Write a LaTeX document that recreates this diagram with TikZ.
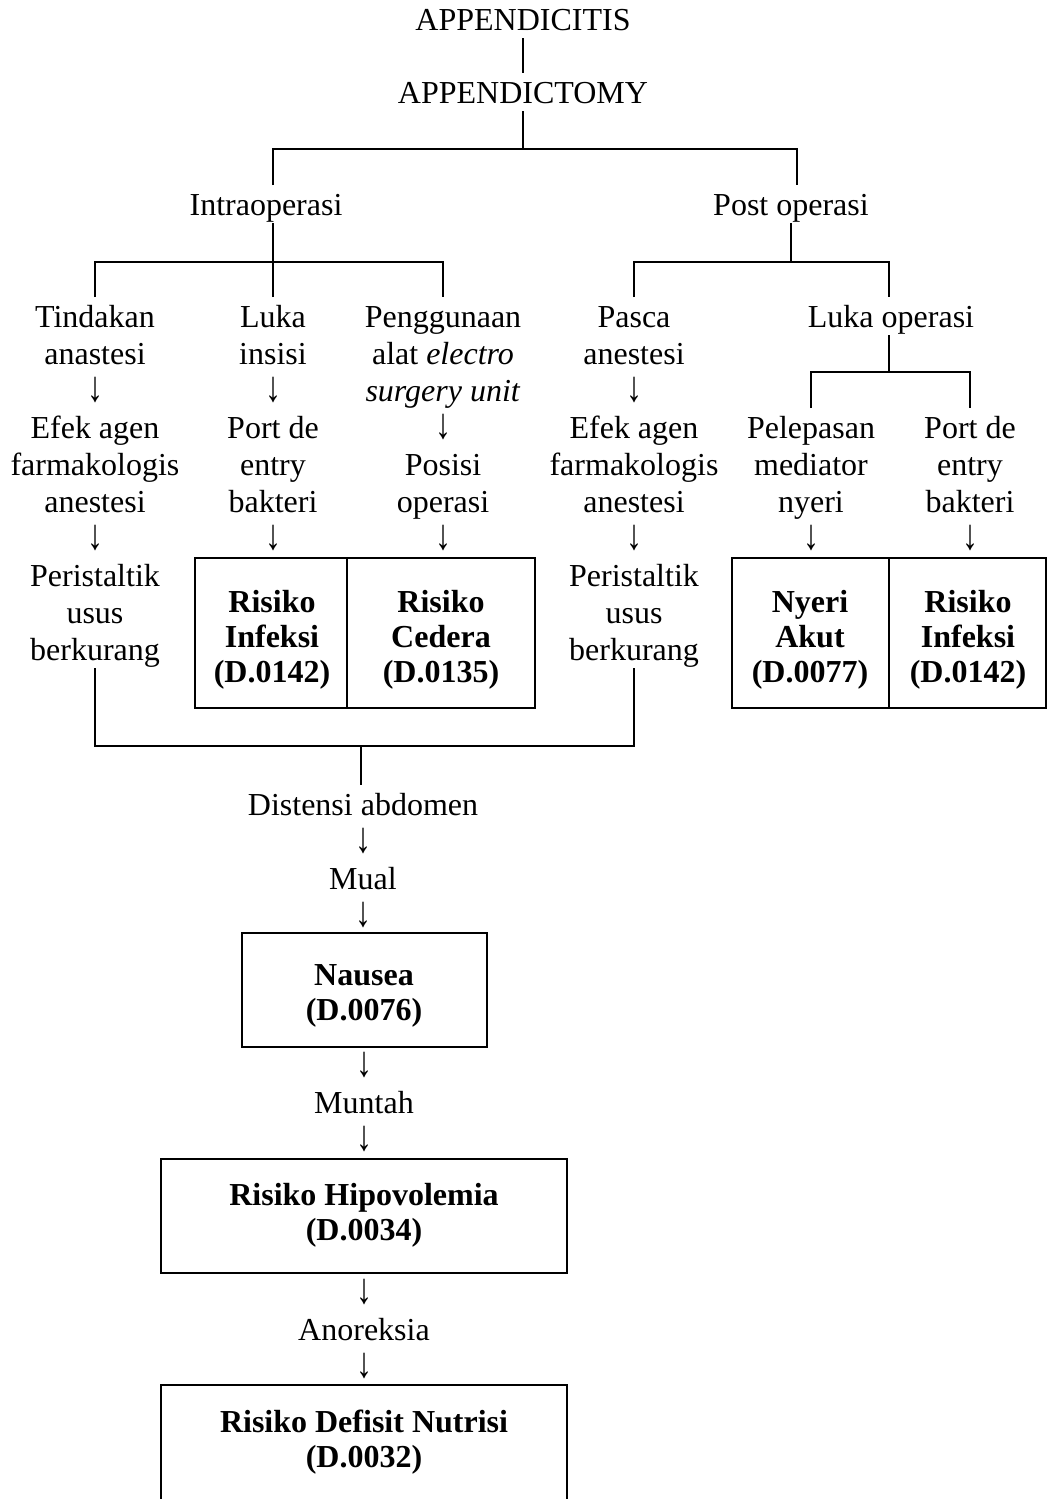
\documentclass[tikz,border=0pt]{standalone}
\usepackage{graphicx}
\usepackage{fontspec}
\setmainfont{Liberation Serif}
\newcommand\mytxt{\fontsize{32}{37}\selectfont}
\newcommand\mybxf{\fontsize{32}{35}\selectfont\bfseries}
\newcommand\myhs{\rule{0pt}{30pt}}
\newcommand\myds{\rule[-8pt]{0pt}{8pt}}
\newcommand\dn{\scalebox{1}[1.35]{↓}}
\begin{document}
\begin{tikzpicture}[x=1pt,y=-1pt,
 lbl/.style={font=\mytxt, align=center, inner sep=0pt, outer sep=0pt, anchor=north},
 btx/.style={font=\mybxf, align=center, inner sep=0pt, outer sep=0pt, anchor=north},
 cell/.style={draw, line width=2pt, inner sep=0pt, outer sep=0pt, anchor=north west},
 ln/.style={line width=2pt}]
\useasboundingbox (0,0) rectangle (1048,1499);
\clip (0,0) rectangle (1048,1499);

% top
\node[lbl] (appis) at (523,0) {\myhs APPENDICITIS\myds};
\node[lbl] (appmy) at (523,73) {\myhs APPENDICTOMY\myds};
\node[lbl] (intra) at (266,185) {\myhs Intraoperasi\myds};
\node[lbl] (post) at (791,185) {\myhs Post operasi\myds};

% columns
\node[lbl] (colA) at (95,297) {\myhs Tindakan\\anastesi\\\dn\\Efek agen\\farmakologis\\anestesi\\\dn\\Peristaltik\\usus\\berkurang\myds};
\node[lbl] (colB) at (273,297) {\myhs Luka\\insisi\\\dn\\Port de\\entry\\bakteri\\\dn};
\node[lbl] (colC) at (443,297) {\myhs Penggunaan\\alat \textit{electro}\\\textit{surgery unit}\\\dn\\Posisi\\operasi\\\dn};
\node[lbl] (colD) at (634,297) {\myhs Pasca\\anestesi\\\dn\\Efek agen\\farmakologis\\anestesi\\\dn\\Peristaltik\\usus\\berkurang\myds};
\node[lbl] (lukaop) at (891,297) {\myhs Luka operasi\myds};
\node[lbl] (colE) at (811,408) {\myhs Pelepasan\\mediator\\nyeri\\\dn};
\node[lbl] (colF) at (970,408) {\myhs Port de\\entry\\bakteri\\\dn};

% diagnosis boxes (upper)
\node[cell, minimum width=152, minimum height=150] (c1a) at (195,558) {};
\node[cell, minimum width=188, minimum height=150] (c1b) at (347,558) {};
\node[cell, minimum width=157, minimum height=150] (c2a) at (732,558) {};
\node[cell, minimum width=157, minimum height=150] (c2b) at (889,558) {};
\node[btx] (t1) at (272,582) {\myhs Risiko\\Infeksi\\(D.0142)};
\node[btx] (t2) at (441,582) {\myhs Risiko\\Cedera\\(D.0135)};
\node[btx] (t3) at (810,582) {\myhs Nyeri\\Akut\\(D.0077)};
\node[btx] (t4) at (968,582) {\myhs Risiko\\Infeksi\\(D.0142)};

% lower chain
\node[lbl] (dist) at (363,785) {\myhs Distensi abdomen\\\dn\\Mual\\\dn};
\node[cell, minimum width=245, minimum height=114] (nbox) at (242,933) {};
\node[btx] (naus) at (364,955) {\myhs Nausea\\(D.0076)};
\node[lbl] (munt) at (364,1046) {\myhs \dn\\Muntah\\\dn};
\node[cell, minimum width=406, minimum height=114] (hbox) at (161,1159) {};
\node[btx] (hipo) at (364,1175) {\myhs Risiko Hipovolemia\\(D.0034)};
\node[lbl] (anor) at (364,1273) {\myhs \dn\\Anoreksia\\\dn};
\node[cell, minimum width=406, minimum height=145] (dbox) at (161,1385) {};
\node[btx] (defi) at (364,1402) {\myhs Risiko Defisit Nutrisi\\(D.0032)};

% connectors
\coordinate (j1) at (523,149);
\draw[ln] (appis.south) -- (appmy.north);
\draw[ln] (appmy.south) -- (j1);
\draw[ln] ([xshift=7pt]intra.north) |- (j1) -| ([xshift=6pt]post.north);

\coordinate (j2) at (273,262);
\draw[ln] ([xshift=7pt]intra.south) -- (j2);
\draw[ln] (colA.north) |- (j2) -| (colC.north);
\draw[ln] (colB.north) -- (j2);

\coordinate (j3) at (791,262);
\draw[ln] (post.south) -- (j3);
\draw[ln] (colD.north) |- (j3) -| ([xshift=-2pt]lukaop.north);

\coordinate (j4) at (889,372);
\draw[ln] ([xshift=-2pt]lukaop.south) -- (j4);
\draw[ln] (colE.north) |- (j4) -| (colF.north);

\coordinate (j5) at (361,746);
\draw[ln] (colA.south) |- (j5) -| (colD.south);
\draw[ln] (j5) -- (j5 |- dist.north);
\end{tikzpicture}
\end{document}
